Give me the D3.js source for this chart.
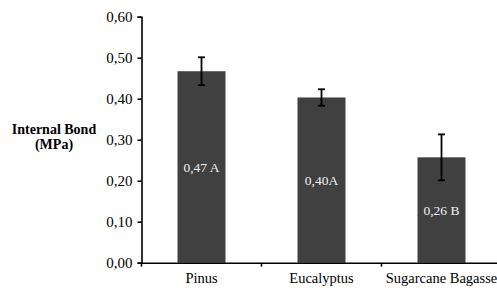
<!DOCTYPE html>
<html><head><meta charset="utf-8">
<script src="https://cdn.jsdelivr.net/npm/d3@7"></script>
<style>
html,body{margin:0;padding:0;background:#fff;}
svg{display:block;font-family:"Liberation Serif","Times New Roman",serif;}
</style></head>
<body>
<svg id="c" width="497" height="288"></svg>
<script>
const categories = ["Pinus", "Eucalyptus", "Sugarcane Bagasse"];
const values = [0.467, 0.403, 0.257];
const errors = [0.034, 0.020, 0.056];
const barLabels = ["0,47 A", "0,40A", "0,26 B"];
const yTicks = [0, 0.1, 0.2, 0.3, 0.4, 0.5, 0.6];
const yTitle = ["Internal Bond", "(MPa)"];

const svg = d3.select("#c");
const x = d3.scaleBand().domain(categories).range([141.5, 501.5]).paddingInner(0.6).paddingOuter(0.3);
const y = d3.scaleLinear().domain([0, 0.6]).range([262.7, 16.7]);
const fmt = v => d3.format(".2f")(v).replace(".", ",");

// bars
svg.append("g").selectAll("rect").data(categories).join("rect")
  .attr("x", d => x(d)).attr("width", x.bandwidth())
  .attr("y", (d, i) => y(values[i])).attr("height", (d, i) => y(0) - y(values[i]))
  .attr("fill", "#404040");

// bar labels
svg.append("g").selectAll("text").data(categories).join("text")
  .attr("x", d => x(d) + x.bandwidth() / 2)
  .attr("y", (d, i) => (y(values[i]) + y(0)) / 2)
  .attr("dy", "0.35em").attr("text-anchor", "middle")
  .attr("fill", "#f2f2f2").attr("font-size", 13.5)
  .text((d, i) => barLabels[i]);

// error bars
const eg = svg.append("g").attr("stroke", "#000").attr("stroke-width", 1.8);
categories.forEach((d, i) => {
  const cx = x(d) + x.bandwidth() / 2;
  const hi = y(values[i] + errors[i]), lo = y(values[i] - errors[i]);
  eg.append("line").attr("x1", cx).attr("x2", cx).attr("y1", hi).attr("y2", lo);
  eg.append("line").attr("x1", cx - 3.5).attr("x2", cx + 3.5).attr("y1", hi).attr("y2", hi);
  eg.append("line").attr("x1", cx - 3.5).attr("x2", cx + 3.5).attr("y1", lo).attr("y2", lo);
});

// y axis
const ya = svg.append("g").attr("transform", "translate(141.5,0)")
  .call(d3.axisLeft(y).tickValues(yTicks).tickFormat(fmt).tickSize(4).tickPadding(5));
ya.selectAll("text").attr("font-size", 15).attr("font-family", "Liberation Serif").attr("fill", "#000");
ya.selectAll("path,line").attr("stroke", "#000").attr("stroke-width", 1.6);

// x axis
const xa = svg.append("g").attr("transform", `translate(0,${y(0)})`)
  .call(d3.axisBottom(x).tickSize(0).tickPadding(10));
xa.selectAll("text").attr("font-size", 14.5).attr("font-family", "Liberation Serif").attr("fill", "#000");
xa.select("path").attr("stroke", "#000").attr("stroke-width", 1.6);
// boundary ticks
const step = x.step();
const bounds = categories.map(d => x(d) - x.paddingInner() * step / 2).concat([x.range()[1]]);
xa.selectAll(".bt").data(bounds).join("line").attr("class", "bt")
  .attr("x1", d => d).attr("x2", d => d).attr("y1", 0).attr("y2", 4)
  .attr("stroke", "#000").attr("stroke-width", 1.6);

// y title
svg.append("text").attr("x", 54).attr("y", 134).attr("text-anchor", "middle")
  .attr("font-weight", "bold").attr("font-size", 14)
  .selectAll("tspan").data(yTitle).join("tspan")
  .attr("x", 54).attr("dy", (d, i) => i ? 15 : 0).text(d => d);
</script>
</body></html>
